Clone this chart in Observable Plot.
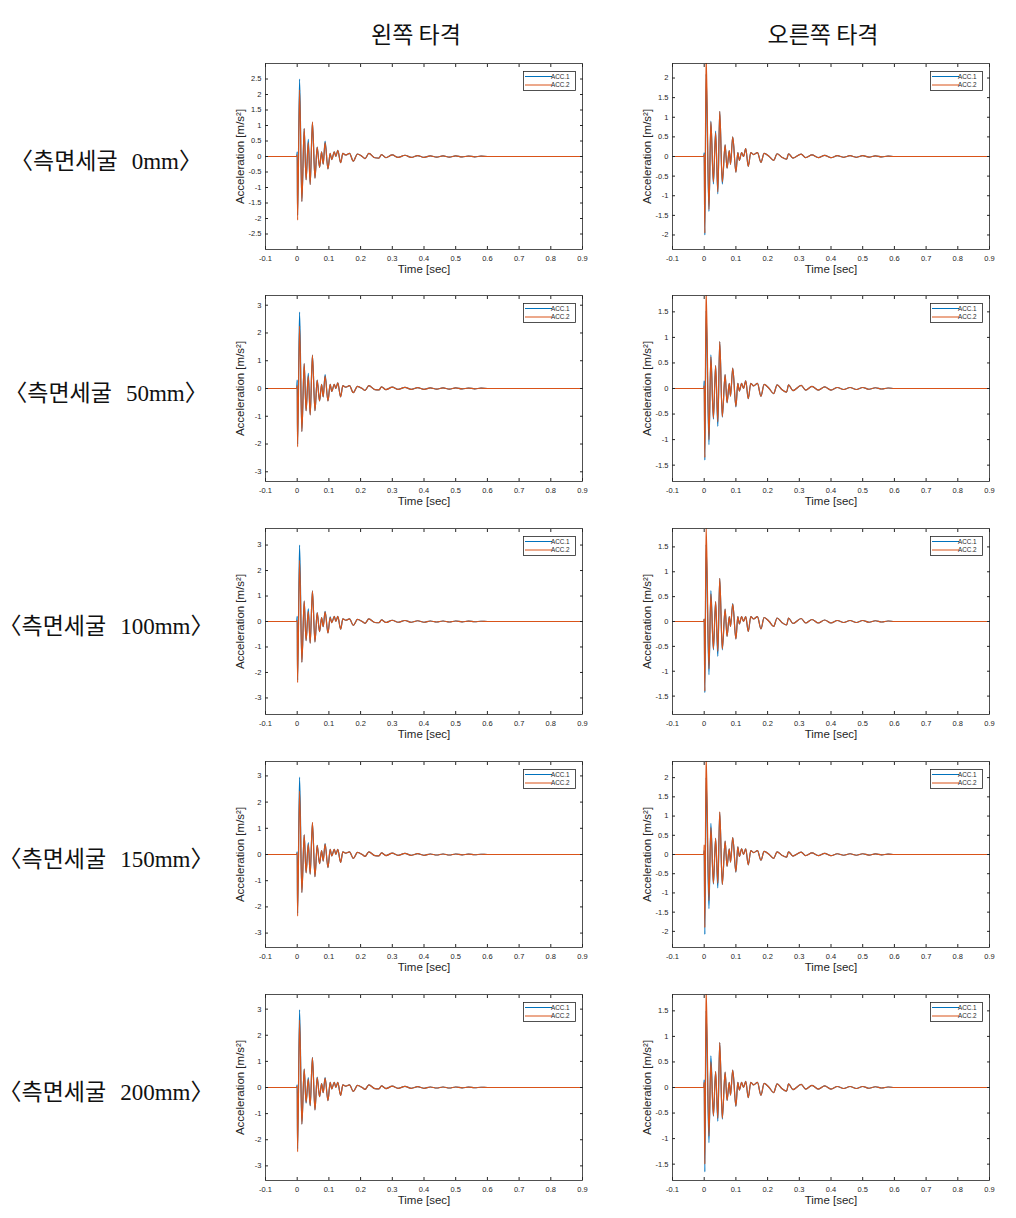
<!DOCTYPE html>
<html><head><meta charset="utf-8">
<script src="https://cdn.jsdelivr.net/npm/d3@7"></script>
<script src="https://cdn.jsdelivr.net/npm/@observablehq/plot@0.6"></script>
<style>
body{margin:0;background:#fff;}
#root{position:relative;width:1016px;height:1218px;background:#fff;overflow:hidden;}
.panel{position:absolute;}
.rowlab{position:absolute;font-family:"Liberation Serif","Noto Sans CJK KR",serif;font-size:23px;color:#111;white-space:nowrap;transform:translate(-50%,-50%);}
.coltitle{position:absolute;font-family:"Noto Sans CJK KR",sans-serif;font-size:23px;color:#111;white-space:nowrap;transform:translate(-50%,-50%);}
.legend{position:absolute;}
</style></head>
<body><div id="root"></div>
<script>
// ---- text ----
const colTitles = ["왼쪽 타격", "오른쪽 타격"];
const rowLabels = ["0mm", "50mm", "100mm", "150mm", "200mm"];
const seriesNames = ["ACC.1", "ACC.2"];
const xTicks = [-0.1, 0, 0.1, 0.2, 0.3, 0.4, 0.5, 0.6, 0.7, 0.8, 0.9];

// ---- time grids (sec) ----
const tHeadL = [-0.1, -0.0015, 0.0, 0.0012, 0.0075, 0.0147, 0.022, 0.028, 0.035, 0.041, 0.048, 0.056, 0.063, 0.0705, 0.077, 0.082, 0.088, 0.097, 0.104, 0.109, 0.117, 0.122, 0.128, 0.137, 0.144];
const tTailL = [0.153, 0.165, 0.177, 0.19, 0.205, 0.214, 0.226, 0.245, 0.258, 0.266, 0.28, 0.3, 0.318, 0.34, 0.36, 0.38, 0.4, 0.42, 0.44, 0.46, 0.48, 0.5, 0.52, 0.54, 0.56, 0.58, 0.6, 0.9];
const tHeadR = [-0.1, -0.001, 0.0, 0.002, 0.006, 0.015, 0.021, 0.029, 0.036, 0.043, 0.049, 0.057, 0.066, 0.072, 0.079, 0.083, 0.090, 0.100, 0.106, 0.111, 0.118, 0.124, 0.131, 0.139, 0.147];
const tTailR = [0.156, 0.168, 0.179, 0.189, 0.205, 0.219, 0.23, 0.245, 0.26, 0.266, 0.28, 0.306, 0.32, 0.34, 0.36, 0.38, 0.4, 0.42, 0.44, 0.46, 0.48, 0.5, 0.52, 0.54, 0.56, 0.58, 0.6, 0.9];

// ---- decaying tails (m/s^2) ----
const tailL = [0.05, 0.1, -0.15, 0.08, 0.0, -0.07, 0.1, -0.04, -0.05, 0.06, -0.04, 0.05, -0.03, 0.04, -0.03, 0.03, -0.03, 0.02, -0.02, 0.02, -0.02, 0.02, -0.015, 0.015, -0.01, 0.01, 0, 0];
const tailR = [0.05, 0.1, -0.15, 0.08, 0.0, -0.1, 0.07, -0.02, -0.07, 0.07, -0.04, 0.06, -0.03, 0.04, -0.03, 0.03, -0.03, 0.02, -0.02, 0.02, -0.02, 0.02, -0.015, 0.015, -0.01, 0.01, 0, 0];

// ---- left hit (왼쪽 타격) ----
const L0_acc1 = [0,0,0.15,-1.9,2.5,-1.45,0.9,-0.75,0.55,-0.9,1.1,-0.7,0.3,-0.35,0.15,-0.25,0.5,-0.4,0.1,-0.1,0.15,0.0,0.2,-0.2,0.1];
const L0_acc2 = [0,0,0.05,-2.05,2.15,-1.45,0.9,-0.75,0.45,-0.9,1.12,-0.7,0.3,-0.35,0.15,-0.25,0.45,-0.4,0.1,-0.1,0.15,0.0,0.2,-0.2,0.1];
const L50_acc1 = [0,0,0.3,-2.0,2.75,-1.55,0.9,-0.8,0.55,-0.95,1.2,-0.8,0.3,-0.45,0.15,-0.3,0.5,-0.45,0.15,-0.1,0.15,0.0,0.2,-0.3,0.1];
const L50_acc2 = [0,0,0.1,-2.1,2.25,-1.55,0.9,-0.8,0.45,-0.95,1.2,-0.8,0.3,-0.45,0.15,-0.3,0.45,-0.45,0.15,-0.1,0.15,0.0,0.2,-0.3,0.1];
const L100_acc1 = [0,0,0.2,-2.3,3.0,-1.6,0.8,-0.75,0.5,-0.85,1.2,-0.8,0.35,-0.4,0.15,-0.2,0.4,-0.45,0.18,-0.05,0.2,0.0,0.2,-0.3,0.1];
const L100_acc2 = [0,0,0.05,-2.4,2.4,-1.6,0.8,-0.75,0.4,-0.85,1.2,-0.8,0.35,-0.4,0.15,-0.2,0.38,-0.45,0.15,-0.05,0.2,0.0,0.2,-0.3,0.1];
const L150_acc1 = [0,0,0.1,-2.25,2.95,-1.45,0.75,-0.7,0.45,-0.75,1.2,-0.85,0.35,-0.35,0.15,-0.25,0.42,-0.5,0.2,-0.05,0.2,0.0,0.2,-0.3,0.1];
const L150_acc2 = [0,0,0.05,-2.35,2.42,-1.45,0.75,-0.7,0.4,-0.75,1.23,-0.85,0.35,-0.35,0.15,-0.25,0.4,-0.5,0.2,-0.05,0.2,0.0,0.2,-0.3,0.1];
const L200_acc1 = [0,0,0.1,-2.35,2.97,-1.4,0.7,-0.6,0.38,-0.7,1.15,-0.86,0.4,-0.35,0.15,-0.2,0.38,-0.5,0.2,-0.05,0.2,0.0,0.2,-0.3,0.1];
const L200_acc2 = [0,0,0.05,-2.46,2.58,-1.4,0.7,-0.57,0.32,-0.69,1.14,-0.86,0.38,-0.35,0.15,-0.2,0.36,-0.5,0.2,-0.05,0.2,0.0,0.2,-0.3,0.1];

// ---- right hit (오른쪽 타격) ----
const R0_acc1 = [0,0,0.1,-2.0,2.1,-1.4,0.9,-0.7,0.65,-0.95,1.15,-0.7,0.3,-0.3,0.15,-0.2,0.5,-0.4,0.1,-0.1,0.1,0.0,0.2,-0.25,0.1];
const R0_acc2 = [0,0,0.05,-1.95,2.6,-1.35,0.88,-0.65,0.6,-0.9,1.15,-0.65,0.3,-0.3,0.15,-0.2,0.5,-0.4,0.1,-0.1,0.1,0.0,0.2,-0.25,0.1];
const R50_acc1 = [0,0,0.15,-1.4,1.52,-1.1,0.66,-0.6,0.45,-0.74,0.92,-0.56,0.27,-0.28,0.1,-0.15,0.4,-0.36,0.1,-0.05,0.1,0.0,0.15,-0.2,0.1];
const R50_acc2 = [0,0,0.05,-1.35,1.95,-1.0,0.62,-0.58,0.45,-0.65,0.92,-0.55,0.27,-0.28,0.1,-0.15,0.4,-0.35,0.1,-0.05,0.1,0.0,0.15,-0.2,0.1];
const R100_acc1 = [0,0,0.05,-1.43,1.55,-1.07,0.62,-0.57,0.4,-0.7,0.87,-0.57,0.25,-0.3,0.1,-0.1,0.36,-0.35,0.1,-0.05,0.1,0.0,0.1,-0.2,0.1];
const R100_acc2 = [0,0,0.05,-1.4,1.95,-0.95,0.55,-0.55,0.4,-0.6,0.87,-0.55,0.25,-0.3,0.1,-0.1,0.35,-0.35,0.1,-0.05,0.1,0.0,0.1,-0.2,0.1];
const R150_acc1 = [0,0,0.1,-2.08,2.0,-1.41,0.81,-0.77,0.42,-0.87,1.1,-0.78,0.35,-0.31,0.15,-0.2,0.44,-0.46,0.2,-0.05,0.15,0.0,0.15,-0.27,0.1];
const R150_acc2 = [0,0,0.25,-1.9,2.6,-1.2,0.7,-0.75,0.42,-0.75,1.11,-0.78,0.35,-0.31,0.15,-0.2,0.44,-0.45,0.2,-0.05,0.15,0.0,0.15,-0.27,0.1];
const R200_acc1 = [0,0,0.15,-1.65,1.5,-1.08,0.62,-0.56,0.31,-0.66,0.88,-0.62,0.3,-0.25,0.1,-0.15,0.34,-0.37,0.1,-0.05,0.1,0.0,0.12,-0.2,0.1];
const R200_acc2 = [0,0,0.1,-1.5,1.95,-0.95,0.5,-0.55,0.31,-0.6,0.88,-0.6,0.3,-0.25,0.1,-0.15,0.34,-0.36,0.1,-0.05,0.1,0.0,0.12,-0.2,0.1];

// ---- axis limits and ticks ----
const yLimLeft = [3.0, 3.35, 3.65, 3.55, 3.56];
const yLimRight = [2.37, 1.82, 1.87, 2.42, 1.82];
const yTicksLeft = [
  [-2.5,-2,-1.5,-1,-0.5,0,0.5,1,1.5,2,2.5],
  [-3,-2,-1,0,1,2,3],
  [-3,-2,-1,0,1,2,3],
  [-3,-2,-1,0,1,2,3],
  [-3,-2,-1,0,1,2,3]
];
const yTicksRight = [
  [-2,-1.5,-1,-0.5,0,0.5,1,1.5,2],
  [-1.5,-1,-0.5,0,0.5,1,1.5],
  [-1.5,-1,-0.5,0,0.5,1,1.5],
  [-2,-1.5,-1,-0.5,0,0.5,1,1.5,2],
  [-1.5,-1,-0.5,0,0.5,1,1.5]
];

const leftSeries = [[L0_acc1,L0_acc2],[L50_acc1,L50_acc2],[L100_acc1,L100_acc2],[L150_acc1,L150_acc2],[L200_acc1,L200_acc2]];
const rightSeries = [[R0_acc1,R0_acc2],[R50_acc1,R50_acc2],[R100_acc1,R100_acc2],[R150_acc1,R150_acc2],[R200_acc1,R200_acc2]];

const COLORS = ["#0072BD", "#D95319"];
const INK = "#262626";
const fmt = d => String(d);

function makePanel(times, vals1, vals2, ymax, yticks) {
  const d1 = times.map((t, i) => ({t, v: vals1[i]}));
  const d2 = times.map((t, i) => ({t, v: vals2[i]}));
  return Plot.plot({
    width: 360, height: 235,
    marginLeft: 40, marginRight: 3, marginTop: 13, marginBottom: 36,
    style: {fontFamily: "'Liberation Sans', Arial, sans-serif", fontSize: "7.5px", color: INK, background: "transparent", overflow: "visible"},
    x: {domain: [-0.1, 0.9]},
    y: {domain: [-ymax, ymax]},
    marks: [
      Plot.lineY(d1, {x: "t", y: "v", stroke: COLORS[0], strokeWidth: 1.2, clip: true, curve: "monotone-x"}),
      Plot.lineY(d2, {x: "t", y: "v", stroke: COLORS[1], strokeWidth: 1.2, clip: true, curve: "monotone-x"}),
      Plot.frame({stroke: INK, strokeWidth: 0.8}),
      Plot.axisX(xTicks, {tickSize: -3, tickPadding: 9, tickFormat: fmt, label: null, stroke: INK}),
      Plot.axisX(xTicks, {anchor: "top", tickSize: -3, tickFormat: () => "", label: null, stroke: INK}),
      Plot.axisY(yticks, {tickSize: -3, tickPadding: 7, tickFormat: fmt, label: null, stroke: INK}),
      Plot.axisY(yticks, {anchor: "right", tickSize: -3, tickFormat: () => "", label: null, stroke: INK}),
      Plot.text(["Time [sec]"], {frameAnchor: "bottom", dy: 23, fontSize: 11.5, fill: INK}),
      Plot.text(["Acceleration [m/s²]"], {frameAnchor: "left", dx: -25, rotate: -90, textAnchor: "middle", fontSize: 11.5, fill: INK})
    ]
  });
}

function makeLegend() {
  const ns = "http://www.w3.org/2000/svg";
  const svg = document.createElementNS(ns, "svg");
  svg.setAttribute("width", 53); svg.setAttribute("height", 20);
  svg.innerHTML = `<rect x="0.5" y="0.5" width="52" height="19" fill="#fff" stroke="${INK}" stroke-width="0.8"/>` +
    seriesNames.map((n, i) => `<line x1="2" x2="29" y1="${5.5 + i * 8.5}" y2="${5.5 + i * 8.5}" stroke="${COLORS[i]}" stroke-width="1"/>` +
      `<text x="28" y="${7.7 + i * 8.5}" font-family="Liberation Sans, Arial" font-size="6.3" fill="${INK}">${n}</text>`).join("");
  return svg;
}

const root = document.getElementById("root");
const frameTops = [63, 295, 528, 761, 994];
const colLefts = [225, 632];

colTitles.forEach((txt, c) => {
  const d = document.createElement("div");
  d.className = "coltitle"; d.textContent = txt;
  d.style.left = (c === 0 ? 416 : 823) + "px"; d.style.top = "33px";
  root.appendChild(d);
});

rowLabels.forEach((lab, r) => {
  const d = document.createElement("div");
  d.className = "rowlab";
  d.innerHTML = `〈측면세굴<span style="margin-left:14px">${lab}</span>〉`;
  d.style.left = "106px"; d.style.top = (frameTops[r] + 96) + "px";
  root.appendChild(d);

  [[tHeadL.concat(tTailL), leftSeries[r], tailL, yLimLeft[r], yTicksLeft[r]],
   [tHeadR.concat(tTailR), rightSeries[r], tailR, yLimRight[r], yTicksRight[r]]].forEach((cfg, c) => {
    const [times, pair, tail, ymax, yt] = cfg;
    const p = makePanel(times, pair[0].concat(tail), pair[1].concat(tail), ymax, yt);
    const wrap = document.createElement("div");
    wrap.className = "panel";
    wrap.style.left = colLefts[c] + "px";
    wrap.style.top = (frameTops[r] - 13) + "px";
    wrap.appendChild(p);
    root.appendChild(wrap);
    const lg = document.createElement("div");
    lg.className = "legend";
    lg.style.left = (colLefts[c] + 40 + 317 - 6 - 53) + "px";
    lg.style.top = (frameTops[r] + 8) + "px";
    lg.appendChild(makeLegend());
    root.appendChild(lg);
  });
});
</script></body></html>
